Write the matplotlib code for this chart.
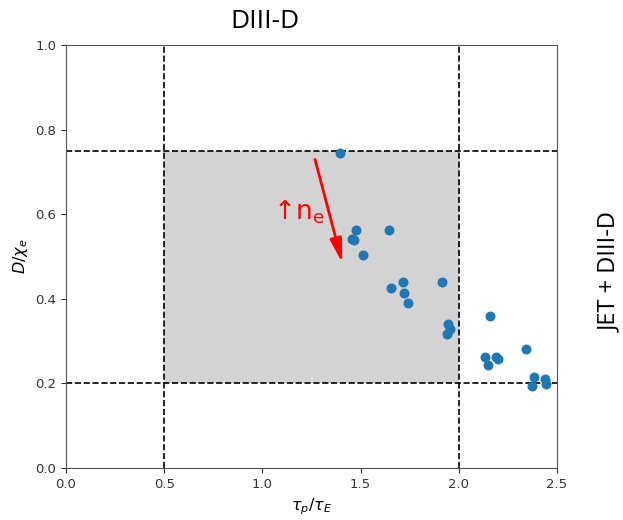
import matplotlib
matplotlib.use("Agg")
import matplotlib.pyplot as plt
from matplotlib.patches import Rectangle

# tau_p / tau_E and D / chi_e
tau_ratio = [1.395, 1.477, 1.646, 1.458, 1.468, 1.511, 1.714, 1.913, 1.655,
             1.721, 1.740, 1.943, 1.955, 1.938, 2.157, 2.135, 2.149, 2.189,
             2.198, 2.342, 2.385, 2.373, 2.439, 2.444]
d_chi = [0.744, 0.564, 0.562, 0.541, 0.540, 0.504, 0.441, 0.441, 0.425,
         0.415, 0.391, 0.340, 0.329, 0.318, 0.359, 0.263, 0.244, 0.263,
         0.258, 0.281, 0.216, 0.195, 0.211, 0.198]

# operating window
tau_lo, tau_hi = 0.5, 2.0
d_lo, d_hi = 0.2, 0.75

# density arrow (start -> end)
arrow_start = (1.268, 0.730)
arrow_end = (1.407, 0.485)

label_font = ["Open Sans", "DejaVu Sans"]

fig = plt.figure(figsize=(6.23, 5.2), dpi=100)
ax = fig.add_axes([0.106, 0.1, 0.788, 0.813])

ax.add_patch(Rectangle((tau_lo, d_lo), tau_hi - tau_lo, d_hi - d_lo,
                       facecolor="lightgray", edgecolor="none", zorder=0))
for x in (tau_lo, tau_hi):
    ax.axvline(x, color="black", linestyle="--", linewidth=1.2, zorder=1)
for y in (d_lo, d_hi):
    ax.axhline(y, color="black", linestyle="--", linewidth=1.2, zorder=1)

ax.scatter(tau_ratio, d_chi, s=38, color="#1f77b4", zorder=3)

ax.annotate("", xy=arrow_end, xytext=arrow_start,
            arrowprops=dict(arrowstyle="-|>,head_length=0.9,head_width=0.22",
                            color="red", lw=2, mutation_scale=16,
                            shrinkA=0, shrinkB=0),
            zorder=4)
ax.text(1.185, 0.605, "↑n$_\\mathregular{e}$", color="red", fontsize=19,
        ha="center", va="center", family="DejaVu Sans")

ax.set_xlim(0, 2.5)
ax.set_ylim(0, 1.0)
ax.set_xticks([0.0, 0.5, 1.0, 1.5, 2.0, 2.5])
ax.set_yticks([0.0, 0.2, 0.4, 0.6, 0.8, 1.0])
ax.tick_params(labelsize=9.5, colors="#333333")
for s in ax.spines.values():
    s.set_color("#555555")
ax.set_xlabel(r"$\tau_p/\tau_E$", fontsize=11.5)
ax.set_ylabel(r"$D/\chi_e$", fontsize=11.5)

fig.text(265 / 623, 1 - 21 / 520, "DIII-D", fontsize=19, ha="center",
         va="center", family=label_font)
fig.text(610 / 623, 1 - 272 / 520, "JET + DIII-D", fontsize=17,
         rotation=90, ha="center", va="center", family=label_font)

fig.savefig("out.png", dpi=100)
